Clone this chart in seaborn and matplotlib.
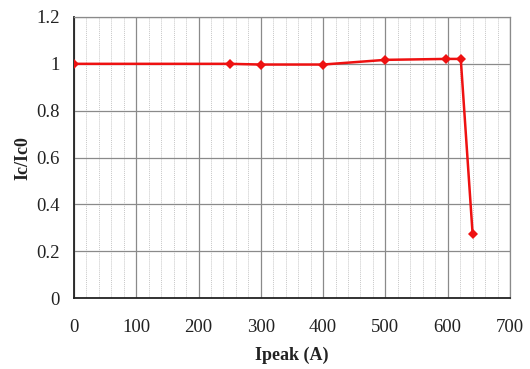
import matplotlib
matplotlib.use("Agg")
import matplotlib.pyplot as plt
from matplotlib.ticker import MultipleLocator
import seaborn as sns
import pandas as pd

# Normalised critical current versus peak current
ipeak = [0, 250, 300, 400, 500, 598, 621, 640]
ic_ratio = [1.0, 1.0, 0.997, 0.997, 1.017, 1.021, 1.021, 0.275]
x_ticks = [0, 100, 200, 300, 400, 500, 600, 700]
y_ticks = [0, 0.2, 0.4, 0.6, 0.8, 1.0, 1.2]
y_tick_labels = ["0", "0.2", "0.4", "0.6", "0.8", "1", "1.2"]

df = pd.DataFrame({"Ipeak (A)": ipeak, "Ic/Ic0": ic_ratio})

sns.set_theme(style="white")
plt.rcParams["font.family"] = ["Liberation Serif", "DejaVu Serif"]

fig = plt.figure(figsize=(5.30, 3.69), dpi=100)
ax = fig.add_axes([0.1396, 0.192, 0.8226, 0.762])

sns.lineplot(data=df, x="Ipeak (A)", y="Ic/Ic0", ax=ax, color="#ee1111",
             linewidth=1.8, marker="D", markersize=5.5, markeredgewidth=0,
             zorder=5)

ax.set_xlim(0, 700)
ax.set_ylim(0, 1.2)
ax.set_xticks(x_ticks)
ax.set_yticks(y_ticks)
ax.set_yticklabels(y_tick_labels)
ax.xaxis.set_minor_locator(MultipleLocator(20))

ax.grid(which="major", axis="both", color="#8a8a8a", linewidth=0.9)
ax.grid(which="minor", axis="x", color="#c8c8c8", linewidth=0.7, linestyle=(0, (1, 1)))
ax.set_axisbelow(True)

ax.tick_params(axis="both", which="both", length=0, labelsize=13.5, colors="#222222")
ax.tick_params(axis="x", pad=15)
ax.tick_params(axis="y", pad=10)

ax.set_xlabel("Ipeak (A)", fontsize=13, fontweight="bold", color="#222222", labelpad=8)
ax.set_ylabel("Ic/Ic0", fontsize=13, fontweight="bold", color="#222222", labelpad=4)

for side in ("left", "bottom"):
    ax.spines[side].set_color("#222222")
    ax.spines[side].set_linewidth(1.3)
for side in ("top", "right"):
    ax.spines[side].set_color("#8a8a8a")
    ax.spines[side].set_linewidth(0.9)

fig.savefig("out.png", dpi=100, facecolor="white")
